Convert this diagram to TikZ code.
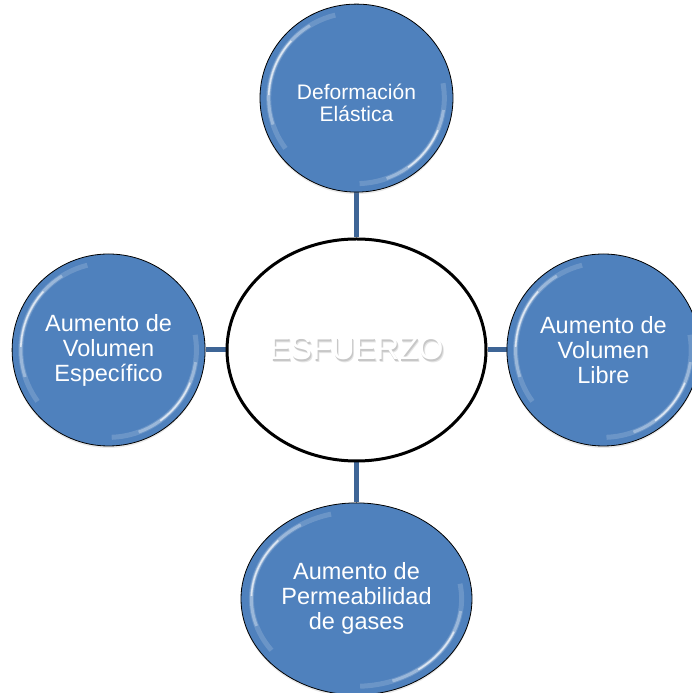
\documentclass[tikz,border=0pt]{standalone}
\usepackage{fontspec}
\setmainfont{Liberation Sans}
\usepackage{tikz}
\usetikzlibrary{positioning,shapes.geometric,backgrounds,calc,shadows}
\definecolor{orbblue}{RGB}{79,129,189}
\definecolor{orbrim}{RGB}{66,109,163}
\definecolor{linkblue}{RGB}{62,101,150}
\pgfdeclareradialshading{orb}{\pgfpoint{0bp}{0bp}}{color(0bp)=(orbblue); color(40bp)=(orbblue); color(50bp)=(orbrim); color(100bp)=(orbrim)}
\newcommand\shadowword[1]{%
  \makebox[0pt][l]{\kern1.8pt\raisebox{-2.8pt}{\color{black!10}#1}}%
  \makebox[0pt][l]{\kern1pt\raisebox{-2pt}{\color{black!22}#1}}%
  #1}

\begin{document}
\begin{tikzpicture}[x=1pt,y=1pt,
  bubble/.style={ellipse,draw=black,line width=.8pt,shading=orb,text=white,
                 align=center,inner sep=0pt,font=\fontsize{23.5}{25}\selectfont,
                 drop shadow={opacity=.18,shadow xshift=0pt,shadow yshift=-2pt},
                 path picture={
                   \foreach \s/\e/\w/\o in {104/216/5/.16,122/198/3/.32,138/178/1.6/.65,
                                            -88/10/5/.16,-70/-8/3/.32,-54/-22/1.6/.65}{
                     \draw[white,opacity=\o,line width=\w pt]
                       let \p1=(path picture bounding box.center),
                           \p2=(path picture bounding box.north east),
                           \n1={.91*(\x2-\x1)},\n2={.91*(\y2-\y1)} in
                       ($(\p1)+(\s:\n1 and \n2)$)
                       arc[start angle=\s,end angle=\e,x radius=\n1,y radius=\n2];}}},
  hub/.style={ellipse,draw=black,line width=3pt,fill=white,inner sep=0pt,
              minimum width=259pt,minimum height=222pt,text=white,
              font=\fontsize{32}{34}\selectfont},
  link/.style={draw=linkblue,line width=5pt}]
\useasboundingbox (0,0) rectangle (691,693);
\node[hub] (esf) at (356.5,343) {\shadowword{ESFUERZO}};
\node[bubble,minimum width=193pt,minimum height=188pt,
      font=\fontsize{21}{22}\selectfont,above=45pt of esf] (def)
     {\raisebox{-8pt}[\height][\depth]{\begin{tabular}{@{}c@{}}Deformación\\Elástica\end{tabular}}};
\node[bubble,minimum width=193pt,minimum height=192pt,left=20pt of esf] (vesp)
     {Aumento de\\Volumen\\Específico};
\node[bubble,minimum width=193pt,minimum height=192pt,right=19pt of esf] (vlib)
     {Aumento de\\Volumen\\Libre};
\node[bubble,minimum width=231pt,minimum height=192pt,below=40pt of esf] (perm)
     {Aumento de\\Permeabilidad\\de gases};
\begin{scope}[on background layer]
\draw[link](esf)--(def);\draw[link](esf)--(vesp);
\draw[link](esf)--(vlib);\draw[link](esf)--(perm);
\end{scope}
\end{tikzpicture}
\end{document}
